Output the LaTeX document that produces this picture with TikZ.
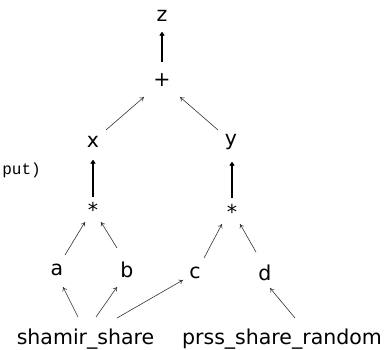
\documentclass[tikz,border=0pt]{standalone}
\usepackage{fontspec}
\setmainfont{DejaVu Sans}
\newfontfamily\monofont{Liberation Mono}
\usetikzlibrary{arrows.meta,calc}
\begin{document}
\begin{tikzpicture}[x=1pt,y=-1pt,
  lab/.style={inner sep=0pt,font=\fontsize{20.5}{20.5}\selectfont},
  arr/.style={-{To[length=4pt,width=5pt]},line width=0.6pt,black!80},
  arrb/.style={-{To[length=4pt,width=5pt]},line width=1.1pt}]
\useasboundingbox (0,0) rectangle (385,349);
\clip (0,0) rectangle (385,349);
\node[lab] (z) at (162,16) {z};
\node[lab] (plus) at (162,80) {+};
\node[lab] (x) at (93,142) {x};
\node[lab] (y) at (231,142) {y};
\node[lab] (s1) at (93,210) {*};
\node[lab] (s2) at (232,212) {*};
\node[lab] (a) at (57,270) {a};
\node[lab] (b) at (127,270) {b};
\node[lab] (c) at (195,273) {c};
\node[lab] (d) at (265,273) {d};
\node[lab,anchor=base] (sh) at (85.5,344) {shamir\_share};
\node[lab,anchor=base] (pr) at (282,344) {prss\_share\_random};
\node[inner sep=0pt,anchor=base east,font=\monofont\fontsize{16}{16}\selectfont] (out) at (41,174) {put)};
\draw[arrb] ($(plus.center)+(0,-18)$) -- ($(z.center)+(0,16)$);
\draw[arr] ($(x.center)+(13,-12)$) -- ($(plus.center)+(-18,17)$);
\draw[arr] ($(y.center)+(-13,-12)$) -- ($(plus.center)+(18,17)$);
\draw[arrb] ($(s1.center)+(0,-13)$) -- ($(x.center)+(0,18)$);
\draw[arrb] ($(s2.center)+(0,-14)$) -- ($(y.center)+(1,20)$);
\draw[arr] ($(a.center)+(8,-15)$) -- ($(s1.center)+(-8,12)$);
\draw[arr] ($(b.center)+(-10,-22)$) -- ($(s1.center)+(8,12)$);
\draw[arr] ($(c.center)+(9,-15)$) -- ($(s2.center)+(-10,12)$);
\draw[arr] ($(d.center)+(-9,-21)$) -- ($(s2.center)+(8,12)$);
\draw[arr] ($(sh.base)+(-7.5,-27)$) -- ($(a.center)+(6,17)$);
\draw[arr] ($(sh.base)+(10.5,-27)$) -- ($(b.center)+(-10,17)$);
\draw[arr] ($(sh.base)+(31.5,-26)$) -- ($(c.center)+(-12,7)$);
\draw[arr] ($(pr.base)+(13,-26)$) -- ($(d.center)+(5,15)$);
\end{tikzpicture}
\end{document}
